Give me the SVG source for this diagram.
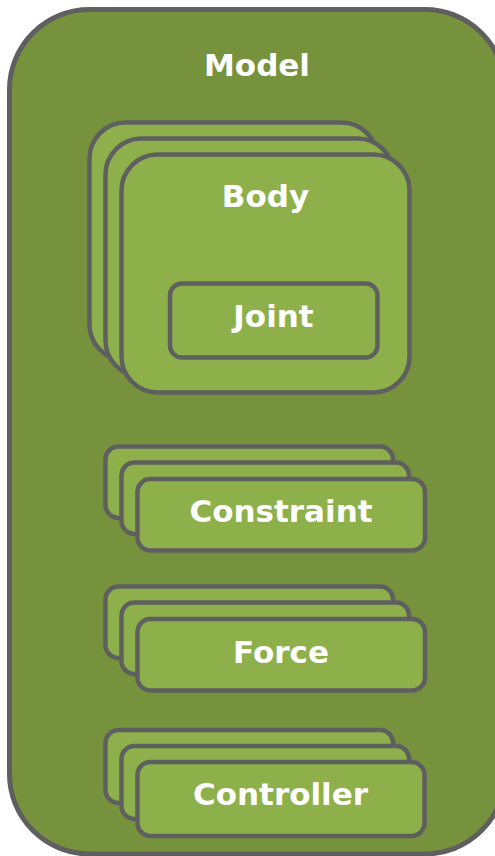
<svg xmlns="http://www.w3.org/2000/svg" width="495" height="856" viewBox="0 0 495 856">
  <style>
    .outer { fill: #76923C; stroke: #5F5F5F; stroke-width: 5; }
    .box { fill: #8DB04B; stroke: #5F5F5F; stroke-width: 4.5; }
    .lbl { fill: #FFFFFF; font-family: "DejaVu Sans", Verdana, sans-serif; font-weight: bold; font-size: 31px; text-anchor: middle; }
  </style>

  <g id="model">
    <rect class="outer" x="9.5" y="9.5" width="495.5" height="844.5" rx="80" ry="80"/>
    <text class="lbl" x="257" y="76">Model</text>
  </g>

  <g id="body">
    <rect class="box" x="89.5" y="122.5" width="288" height="238" rx="36" ry="36"/>
    <rect class="box" x="105.5" y="138.5" width="288" height="238" rx="36" ry="36"/>
    <rect class="box" x="121.5" y="154.5" width="288" height="238" rx="36" ry="36"/>
    <text class="lbl" x="265.5" y="207">Body</text>
  </g>

  <g id="joint">
    <rect class="box" x="170" y="283.5" width="207.5" height="74" rx="12" ry="12"/>
    <text class="lbl" x="273.5" y="327">Joint</text>
  </g>

  <g id="constraint">
    <rect class="box" x="105.5" y="446.5" width="287.5" height="71.5" rx="13" ry="13"/>
    <rect class="box" x="121.5" y="462.5" width="287.5" height="71.5" rx="13" ry="13"/>
    <rect class="box" x="137.5" y="479" width="287.5" height="71.5" rx="13" ry="13"/>
    <text class="lbl" x="281" y="522">Constraint</text>
  </g>

  <g id="force">
    <rect class="box" x="105.5" y="586.5" width="287.5" height="71.5" rx="13" ry="13"/>
    <rect class="box" x="121.5" y="602.5" width="287.5" height="71.5" rx="13" ry="13"/>
    <rect class="box" x="137.5" y="619" width="287.5" height="71.5" rx="13" ry="13"/>
    <text class="lbl" x="281" y="662.5">Force</text>
  </g>

  <g id="controller">
    <rect class="box" x="105.5" y="730" width="287.5" height="73" rx="13" ry="13"/>
    <rect class="box" x="121.5" y="746" width="287.5" height="73" rx="13" ry="13"/>
    <rect class="box" x="137.5" y="762" width="287" height="74" rx="13" ry="13"/>
    <text class="lbl" x="280.5" y="805">Controller</text>
  </g>

  <g id="connectors"/>
</svg>
